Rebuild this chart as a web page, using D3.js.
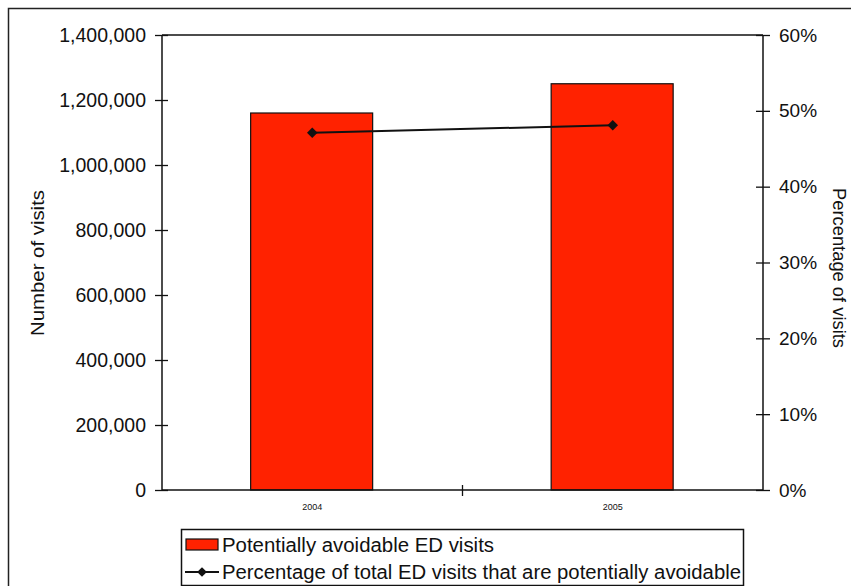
<!DOCTYPE html>
<html>
<head>
<meta charset="utf-8">
<script src="https://cdn.jsdelivr.net/npm/d3@7"></script>
<style>
  body { margin: 0; background: #fff; }
  svg text { font-family: "Liberation Sans", Arial, sans-serif; fill: #111; }
</style>
</head>
<body>
<div id="chart"></div>
<script>
const years = ['2004', '2005'];
const avoidableVisits = [1160000, 1250000];
const avoidablePct = [47.1, 48.1];
const visitTicks = [0, 200000, 400000, 600000, 800000, 1000000, 1200000, 1400000];
const pctTicks = [0, 10, 20, 30, 40, 50, 60];
const legendLabels = ['Potentially avoidable ED visits', 'Percentage of total ED visits that are potentially avoidable'];

const width = 851, height = 586;
const plot = { left: 162, right: 763, top: 35, bottom: 490 };

const svg = d3.select('#chart')
  .append('svg')
  .attr('width', width)
  .attr('height', height);

// outer frame (right/bottom run off the picture)
svg.append('rect')
  .attr('x', 8.5).attr('y', 8.5)
  .attr('width', 900).attr('height', 700)
  .attr('fill', 'none').attr('stroke', '#222').attr('stroke-width', 1.5);

const xOuter = d3.scaleBand().domain(years).range([plot.left, plot.right]);
const yLeft = d3.scaleLinear().domain([0, 1400000]).range([plot.bottom, plot.top]);
const yRight = d3.scaleLinear().domain([0, 60]).range([plot.bottom, plot.top]);

// bars
svg.selectAll('rect.bar')
  .data(avoidableVisits)
  .join('rect')
  .attr('class', 'bar')
  .attr('x', (d, i) => xOuter(years[i]) + xOuter.bandwidth() * 0.295)
  .attr('width', xOuter.bandwidth() * 0.406)
  .attr('y', d => yLeft(d))
  .attr('height', d => yLeft(0) - yLeft(d))
  .attr('fill', '#ff2200')
  .attr('stroke', '#111')
  .attr('stroke-width', 1.2);

// plot box top
svg.append('line')
  .attr('x1', plot.left).attr('x2', plot.right)
  .attr('y1', plot.top).attr('y2', plot.top)
  .attr('stroke', '#111').attr('stroke-width', 1.5);

// left axis
const leftAxis = svg.append('g')
  .attr('transform', `translate(${plot.left},0)`)
  .call(d3.axisLeft(yLeft).tickValues(visitTicks).tickFormat(d3.format(',')).tickSize(7).tickPadding(9));
leftAxis.selectAll('.tick line').attr('x1', 6).attr('x2', -7);

// right axis
const rightAxis = svg.append('g')
  .attr('transform', `translate(${plot.right},0)`)
  .call(d3.axisRight(yRight).tickValues(pctTicks).tickFormat(d => d + '%').tickSize(7).tickPadding(9));
rightAxis.selectAll('.tick line').attr('x1', -7).attr('x2', 7);

// bottom axis
const bottomAxis = svg.append('g')
  .attr('transform', `translate(0,${plot.bottom})`)
  .call(d3.axisBottom(xOuter).tickSize(0).tickPadding(14));
bottomAxis.selectAll('.tick text').attr('font-size', 9);
bottomAxis.append('line')
  .attr('x1', xOuter(years[1])).attr('x2', xOuter(years[1]))
  .attr('y1', -5).attr('y2', 6)
  .attr('stroke', '#111').attr('stroke-width', 1.3);

[leftAxis, rightAxis, bottomAxis].forEach(g => {
  g.select('.domain').attr('stroke', '#111').attr('stroke-width', 1.5);
  g.selectAll('.tick line').attr('stroke', '#111').attr('stroke-width', 1.3);
});
leftAxis.selectAll('.tick text').attr('font-size', 19.5);
rightAxis.selectAll('.tick text').attr('font-size', 19);
leftAxis.select('.domain').attr('d', `M0,${plot.bottom}V${plot.top}`);
rightAxis.select('.domain').attr('d', `M0,${plot.bottom}V${plot.top}`);
bottomAxis.select('.domain').attr('d', `M${plot.left},0H${plot.right}`);

// line series
const cx = i => xOuter(years[i]) + xOuter.bandwidth() / 2;
svg.append('path')
  .datum(avoidablePct)
  .attr('d', d3.line().x((d, i) => cx(i)).y(d => yRight(d)))
  .attr('fill', 'none').attr('stroke', '#111').attr('stroke-width', 2);
svg.selectAll('path.marker')
  .data(avoidablePct)
  .join('path')
  .attr('class', 'marker')
  .attr('transform', (d, i) => `translate(${cx(i)},${yRight(d)})`)
  .attr('d', d3.symbol(d3.symbolDiamond2, 70))
  .attr('fill', '#111');

// axis titles
svg.append('text')
  .attr('transform', 'translate(44,263) rotate(-90)')
  .attr('text-anchor', 'middle').attr('font-size', 18)
  .attr('textLength', 146).attr('lengthAdjust', 'spacingAndGlyphs')
  .text('Number of visits');
svg.append('text')
  .attr('transform', 'translate(833,268) rotate(90)')
  .attr('text-anchor', 'middle').attr('font-size', 18)
  .attr('textLength', 160).attr('lengthAdjust', 'spacingAndGlyphs')
  .text('Percentage of visits');

// legend
const legend = svg.append('g');
legend.append('rect')
  .attr('x', 181.5).attr('y', 529.5).attr('width', 562).attr('height', 56)
  .attr('fill', '#fff').attr('stroke', '#111').attr('stroke-width', 1.5);
legend.append('rect')
  .attr('x', 186).attr('y', 539).attr('width', 32).attr('height', 11)
  .attr('fill', '#ff2200').attr('stroke', '#111').attr('stroke-width', 1.2);
legend.append('line')
  .attr('x1', 185).attr('x2', 219).attr('y1', 572).attr('y2', 572)
  .attr('stroke', '#111').attr('stroke-width', 2);
legend.append('path')
  .attr('transform', 'translate(202,572)')
  .attr('d', d3.symbol(d3.symbolDiamond2, 60))
  .attr('fill', '#111');
legend.selectAll('text.lg')
  .data(legendLabels)
  .join('text')
  .attr('class', 'lg')
  .attr('x', 222)
  .attr('y', (d, i) => 552 + i * 27)
  .attr('font-size', 19.5)
  .attr('textLength', (d, i) => i === 0 ? 272 : 519)
  .attr('lengthAdjust', 'spacingAndGlyphs')
  .text(d => d);
</script>
</body>
</html>
